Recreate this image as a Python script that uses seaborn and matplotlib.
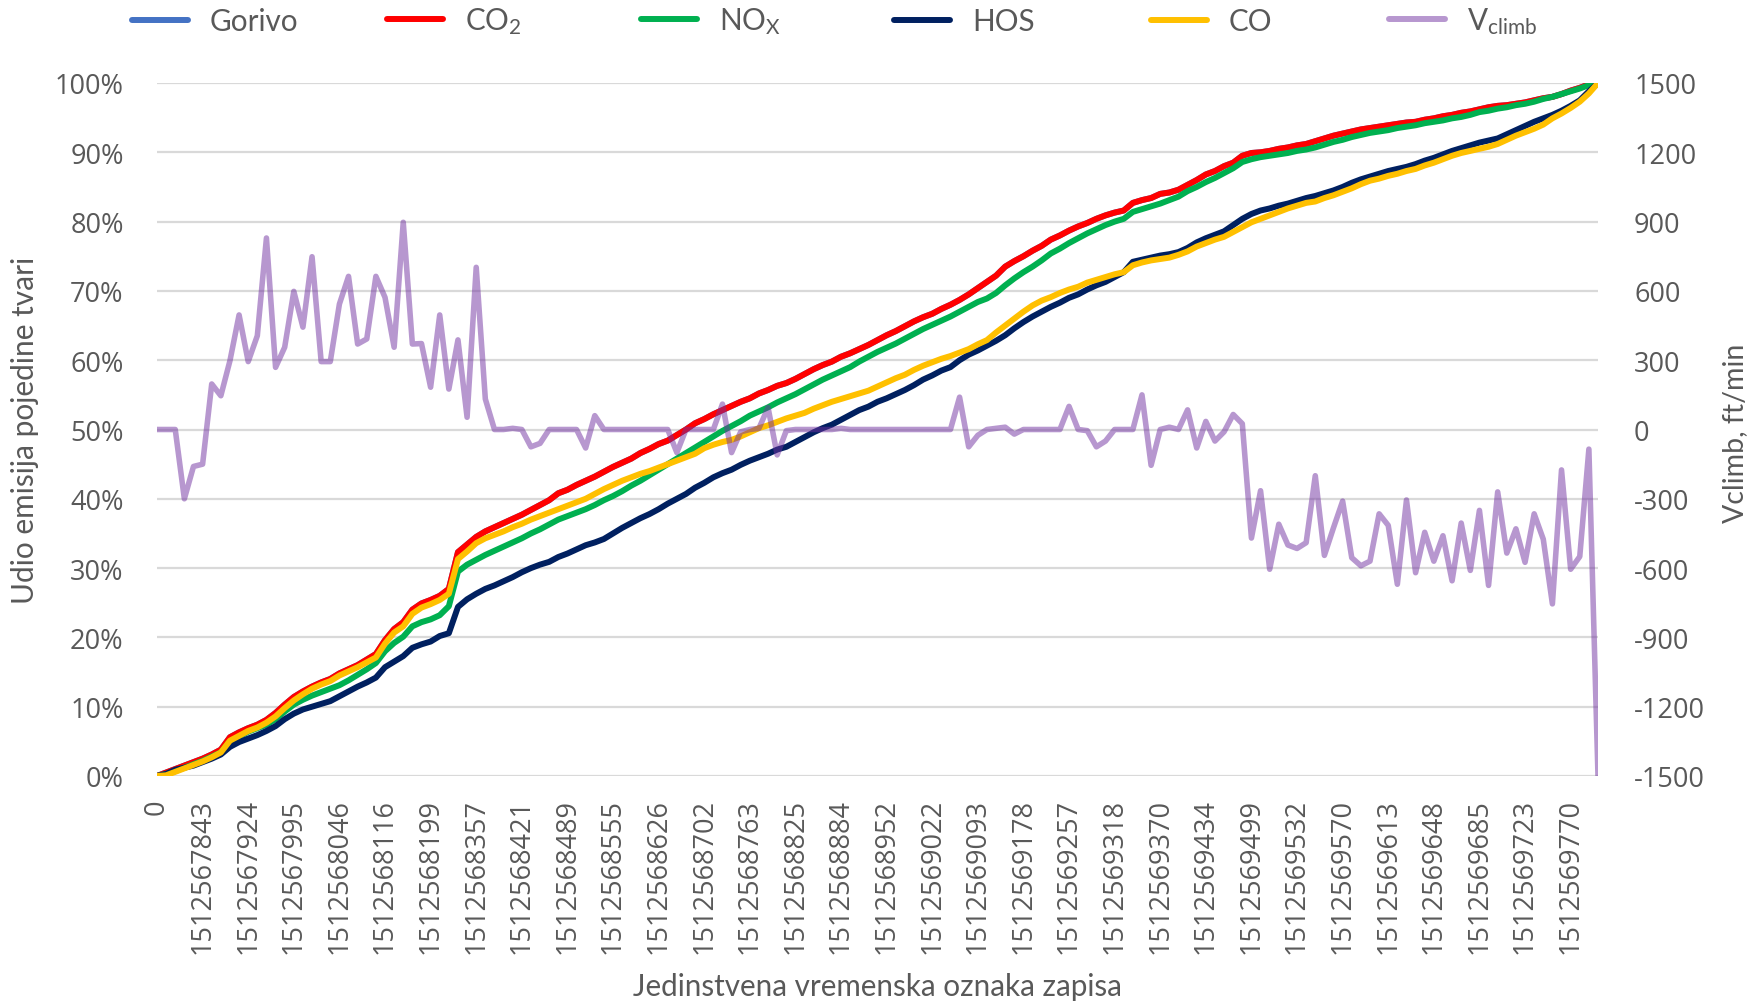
import numpy as np
import pandas as pd
import matplotlib
matplotlib.use("Agg")
import matplotlib.pyplot as plt
import seaborn as sns
from matplotlib.ticker import PercentFormatter

# Cumulative share of each emitted substance (percent of the flight total) per record
co2 = [
    0.0, 0.5, 1.0, 1.5, 2.0, 2.5, 3.1, 3.8, 5.6, 6.3,
    6.9, 7.4, 8.1, 9.1, 10.3, 11.4, 12.2, 12.9, 13.5, 14.0,
    14.8, 15.4, 16.0, 16.8, 17.6, 19.6, 21.2, 22.2, 24.0, 24.9,
    25.4, 26.0, 27.0, 32.3, 33.4, 34.5, 35.3, 35.9, 36.5, 37.1,
    37.7, 38.4, 39.1, 39.8, 40.8, 41.3, 42.0, 42.6, 43.2, 43.9,
    44.6, 45.2, 45.8, 46.6, 47.2, 47.9, 48.4, 49.2, 50.0, 50.9,
    51.5, 52.2, 52.8, 53.4, 54.0, 54.5, 55.2, 55.7, 56.3, 56.7,
    57.3, 58.0, 58.7, 59.3, 59.8, 60.5, 61.0, 61.6, 62.2, 62.9,
    63.6, 64.2, 64.9, 65.6, 66.2, 66.7, 67.4, 68.0, 68.7, 69.5,
    70.4, 71.3, 72.2, 73.5, 74.3, 75.0, 75.8, 76.5, 77.4, 78.0,
    78.7, 79.3, 79.8, 80.4, 80.9, 81.3, 81.6, 82.7, 83.1, 83.4,
    84.0, 84.2, 84.6, 85.3, 86.0, 86.8, 87.3, 88.0, 88.5, 89.5,
    89.9, 90.0, 90.2, 90.5, 90.7, 91.0, 91.2, 91.6, 92.0, 92.4,
    92.7, 93.0, 93.3, 93.5, 93.7, 93.9, 94.1, 94.3, 94.4, 94.7,
    94.9, 95.2, 95.4, 95.7, 95.9, 96.2, 96.5, 96.7, 96.8, 97.0,
    97.2, 97.5, 97.8, 98.0, 98.4, 98.9, 99.3, 99.8, 100.0,
]

# CO2 is proportional to the fuel burned, so the fuel share follows the same curve
gorivo = list(co2)

nox = [
    0.0, 0.3, 0.7, 1.2, 1.7, 2.2, 2.8, 3.4, 5.0, 5.7,
    6.4, 6.9, 7.4, 8.2, 9.3, 10.3, 11.0, 11.6, 12.1, 12.6,
    13.1, 13.8, 14.6, 15.4, 16.3, 18.0, 19.2, 20.1, 21.6, 22.2,
    22.6, 23.2, 24.5, 29.5, 30.5, 31.2, 31.9, 32.5, 33.1, 33.7,
    34.3, 35.0, 35.6, 36.3, 37.0, 37.5, 38.0, 38.5, 39.1, 39.8,
    40.4, 41.1, 41.9, 42.6, 43.4, 44.2, 45.0, 45.8, 46.6, 47.4,
    48.2, 49.0, 49.8, 50.5, 51.2, 52.0, 52.6, 53.2, 53.9, 54.5,
    55.1, 55.8, 56.5, 57.2, 57.8, 58.4, 59.0, 59.8, 60.5, 61.2,
    61.8, 62.4, 63.1, 63.8, 64.5, 65.1, 65.7, 66.3, 67.0, 67.7,
    68.4, 68.9, 69.7, 70.8, 71.8, 72.7, 73.5, 74.4, 75.4, 76.1,
    76.9, 77.6, 78.3, 78.9, 79.5, 80.0, 80.4, 81.4, 81.8, 82.2,
    82.6, 83.1, 83.6, 84.4, 85.0, 85.7, 86.3, 87.0, 87.7, 88.6,
    89.0, 89.3, 89.5, 89.7, 89.9, 90.2, 90.4, 90.7, 91.1, 91.5,
    91.8, 92.2, 92.5, 92.8, 93.0, 93.2, 93.5, 93.7, 93.9, 94.2,
    94.4, 94.6, 94.9, 95.1, 95.4, 95.8, 96.0, 96.3, 96.5, 96.8,
    97.0, 97.3, 97.7, 98.0, 98.4, 98.8, 99.2, 99.7, 100.0,
]

hos = [
    0.0, 0.3, 0.9, 1.2, 1.5, 2.0, 2.5, 3.1, 4.2, 4.9,
    5.4, 5.9, 6.5, 7.2, 8.2, 9.0, 9.6, 10.0, 10.4, 10.8,
    11.5, 12.2, 12.9, 13.5, 14.2, 15.7, 16.5, 17.3, 18.5, 19.0,
    19.4, 20.2, 20.6, 24.4, 25.5, 26.3, 27.0, 27.5, 28.1, 28.7,
    29.4, 30.0, 30.5, 30.9, 31.6, 32.1, 32.7, 33.3, 33.7, 34.2,
    35.0, 35.8, 36.5, 37.2, 37.8, 38.5, 39.3, 40.0, 40.7, 41.6,
    42.3, 43.1, 43.7, 44.2, 44.9, 45.5, 46.0, 46.5, 47.1, 47.5,
    48.2, 48.9, 49.6, 50.2, 50.7, 51.4, 52.1, 52.8, 53.3, 54.0,
    54.5, 55.1, 55.7, 56.4, 57.2, 57.8, 58.5, 59.0, 60.0, 60.8,
    61.4, 62.1, 62.8, 63.6, 64.6, 65.5, 66.3, 67.0, 67.7, 68.3,
    69.0, 69.5, 70.2, 70.8, 71.3, 72.0, 72.7, 74.2, 74.5, 74.8,
    75.1, 75.3, 75.6, 76.2, 77.0, 77.6, 78.1, 78.6, 79.5, 80.4,
    81.1, 81.6, 81.9, 82.3, 82.6, 83.0, 83.4, 83.7, 84.1, 84.5,
    85.0, 85.6, 86.1, 86.5, 86.9, 87.3, 87.6, 87.9, 88.3, 88.8,
    89.2, 89.7, 90.2, 90.6, 91.0, 91.4, 91.7, 92.0, 92.6, 93.2,
    93.8, 94.4, 94.9, 95.4, 96.0, 96.7, 97.5, 98.8, 100.0,
]

co = [
    0.0, 0.1, 0.6, 1.1, 1.6, 2.1, 2.7, 3.4, 5.1, 5.8,
    6.5, 7.0, 7.7, 8.6, 9.8, 10.9, 11.8, 12.6, 13.2, 13.7,
    14.5, 15.1, 15.7, 16.4, 17.1, 19.1, 20.7, 21.6, 23.4, 24.3,
    24.8, 25.4, 26.3, 31.3, 32.4, 33.6, 34.3, 34.8, 35.3, 35.9,
    36.4, 37.0, 37.5, 38.0, 38.5, 39.0, 39.5, 40.0, 40.7, 41.4,
    42.0, 42.6, 43.1, 43.6, 44.0, 44.5, 45.0, 45.5, 46.0, 46.5,
    47.3, 47.8, 48.2, 48.5, 49.0, 49.6, 50.2, 50.6, 51.1, 51.6,
    52.0, 52.4, 53.0, 53.5, 54.0, 54.4, 54.8, 55.2, 55.6, 56.2,
    56.8, 57.4, 57.9, 58.6, 59.2, 59.7, 60.2, 60.6, 61.1, 61.6,
    62.3, 62.9, 64.0, 65.0, 66.0, 67.0, 67.9, 68.6, 69.1, 69.7,
    70.2, 70.6, 71.2, 71.6, 72.0, 72.4, 72.7, 73.7, 74.1, 74.4,
    74.6, 74.8, 75.2, 75.7, 76.4, 76.9, 77.4, 77.8, 78.5, 79.2,
    79.9, 80.4, 80.9, 81.4, 81.9, 82.3, 82.7, 82.9, 83.4, 83.8,
    84.3, 84.8, 85.4, 85.9, 86.2, 86.6, 86.9, 87.3, 87.6, 88.1,
    88.5, 89.0, 89.5, 89.9, 90.2, 90.5, 90.8, 91.2, 91.8, 92.4,
    92.9, 93.4, 94.0, 94.9, 95.6, 96.4, 97.3, 98.5, 100.0,
]

# Vertical speed, ft/min
vclimb = [
    0, 0, 0, -300, -160, -150, 197, 146, 298, 496,
    294, 406, 829, 269, 356, 598, 443, 748, 294, 294,
    543, 663, 370, 392, 663, 572, 356, 897, 370, 372,
    183, 496, 175, 388, 53, 702, 132, 0, 0, 5,
    0, -75, -60, 0, 0, 0, 0, -80, 60, 0,
    0, 0, 0, 0, 0, 0, 0, -100, 0, 0,
    0, 0, 110, -100, -10, 0, 5, 95, -110, -5,
    0, 0, 0, 0, 0, 5, 0, 0, 0, 0,
    0, 0, 0, 0, 0, 0, 0, 0, 140, -75,
    -25, 0, 5, 10, -20, 0, 0, 0, 0, 0,
    100, 0, -5, -75, -50, 0, 0, 0, 150, -155,
    0, 10, 0, 85, -80, 35, -50, -10, 65, 25,
    -470, -265, -605, -410, -500, -515, -490, -200, -545, -425,
    -310, -555, -590, -570, -365, -415, -670, -305, -620, -445,
    -570, -460, -655, -405, -610, -350, -675, -270, -535, -430,
    -575, -365, -475, -755, -175, -605, -550, -85, -1500,
]

# Record identifiers shown on the category axis (every fifth record)
tick_labels = [
    "0", "1512567843", "1512567924", "1512567995", "1512568046", "1512568116",
    "1512568199", "1512568357", "1512568421", "1512568489", "1512568555",
    "1512568626", "1512568702", "1512568763", "1512568825", "1512568884",
    "1512568952", "1512569022", "1512569093", "1512569178", "1512569257",
    "1512569318", "1512569370", "1512569434", "1512569499", "1512569532",
    "1512569570", "1512569613", "1512569648", "1512569685", "1512569723",
    "1512569770",
]
tick_step = 5

series_names = ["Gorivo", r"CO$_\mathregular{2}$", r"NO$_\mathregular{X}$", "HOS", "CO"]
series_values = [gorivo, co2, nox, hos, co]
series_colors = ["#4472C4", "#FF0000", "#00B050", "#002060", "#FFC000"]
climb_name = r"V$_\mathregular{climb}$"
climb_color = (112 / 255, 48 / 255, 160 / 255, 0.5)

sns.set_style("white")
plt.rcParams["font.family"] = ["Lato", "DejaVu Sans"]
plt.rcParams["mathtext.fontset"] = "custom"
plt.rcParams["mathtext.rm"] = "Lato"
plt.rcParams["mathtext.it"] = "Lato:italic"
plt.rcParams["mathtext.bf"] = "Lato:bold"
plt.rcParams["axes.unicode_minus"] = False

TEXT = "#595959"
GRID = "#D9D9D9"
W, H = 1753, 1003
L, R, T, B = 157, 1598, 84, 777

n = len(co2)
record = np.arange(n)
df = pd.DataFrame({"record": record})
for name, vals in zip(series_names, series_values):
    df[name] = np.asarray(vals, dtype=float) / 100.0
df["climb"] = np.asarray(vclimb, dtype=float)

fig = plt.figure(figsize=(W / 100, H / 100), dpi=100)
ax = fig.add_axes([L / W, 1 - B / H, (R - L) / W, (B - T) / H])

lw = 4.3
for name, color in zip(series_names, series_colors):
    sns.lineplot(data=df, x="record", y=name, ax=ax, color=color, lw=lw,
                 solid_joinstyle="round", solid_capstyle="round", legend=False)

ax2 = ax.twinx()
sns.lineplot(data=df, x="record", y="climb", ax=ax2, color=climb_color, lw=4.0,
             solid_joinstyle="round", solid_capstyle="round", legend=False)

ax.set_xlim(0, n - 1)
ax.set_ylim(0, 1)
ax.set_yticks(np.linspace(0, 1, 11))
ax.yaxis.set_major_formatter(PercentFormatter(1.0, decimals=0))
ax2.set_ylim(-1500, 1500)
ax2.set_yticks(np.arange(-1500, 1501, 300))

ax.set_xticks(record[::tick_step])
ax.set_xticklabels(tick_labels, rotation=90, va="top", ha="center")

ax.yaxis.grid(True, color=GRID, lw=1.6)
ax.xaxis.grid(False)
ax2.grid(False)
for a in (ax, ax2):
    for s in a.spines.values():
        s.set_visible(False)
    a.set_xlabel("")
    a.set_ylabel("")

fs = 19.5
tick_font = "Open Sans"
ax.tick_params(axis="x", length=0, pad=16, labelsize=fs, labelcolor=TEXT)
ax.tick_params(axis="y", length=0, pad=24, labelsize=fs, labelcolor=TEXT)
ax2.tick_params(axis="y", length=0, pad=26, labelsize=fs, labelcolor=TEXT)
for lab in ax.get_xticklabels() + ax.get_yticklabels() + ax2.get_yticklabels():
    lab.set_fontfamily(tick_font)

fig.text((L + R) / 2 / W, 1 - 987 / H, "Jedinstvena vremenska oznaka zapisa",
         ha="center", va="center", fontsize=21.3, color=TEXT)
fig.text(25 / W, 1 - 430 / H, "Udio emisija pojedine tvari", rotation=90,
         ha="center", va="center", fontsize=21.5, color=TEXT)
fig.text(1735 / W, 1 - 433 / H, "Vclimb, ft/min", rotation=90,
         ha="center", va="center", fontsize=20.5, color=TEXT)

# Legend row: one fixed-width slot per entry
handles = list(ax.get_lines()[:len(series_names)]) + [ax2.get_lines()[0]]
labels = series_names + [climb_name]
slot_x = [132, 387, 641, 894, 1151, 1389]
leg_fs = 21.3
for h, lab, x0 in zip(handles, labels, slot_x):
    leg = fig.legend([h], [lab], loc="center left",
                     bbox_to_anchor=(x0 / W, 1 - 22 / H), frameon=False,
                     fontsize=leg_fs, handlelength=56 / (leg_fs * 100 / 72),
                     handletextpad=22 / (leg_fs * 100 / 72),
                     borderpad=0, borderaxespad=0, labelcolor=TEXT)
    for lh in leg.get_lines():
        lh.set_linewidth(4.3)

fig.savefig("out.png", dpi=100)
